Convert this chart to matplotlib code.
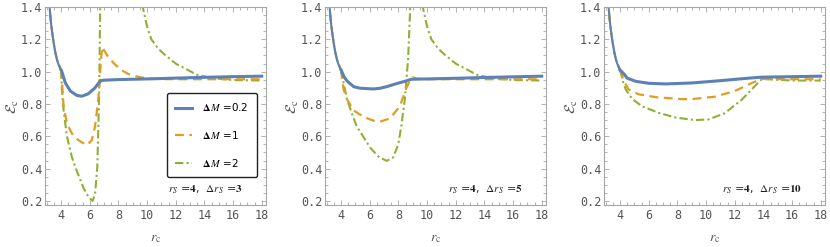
import matplotlib
matplotlib.use("Agg")
import matplotlib.pyplot as plt
from matplotlib.ticker import MultipleLocator

plt.rcParams['mathtext.fontset'] = 'stix'

BLUE = '#5E81B5'
ORANGE = '#E19C24'
GREEN = '#8FB032'

# common branch rc < rs
x_left = [3.12, 3.2, 3.3, 3.4, 3.5, 3.6, 3.7, 3.8, 3.9, 4.0]
e_left = [1.48, 1.40, 1.30, 1.23, 1.17, 1.12, 1.08, 1.05, 1.03, 1.01]

# ---- panel 1 : rs=4, drs=3 ----
p1_blue_x = [4.0, 4.07, 4.3, 4.65, 5.1, 5.45, 5.9, 6.37, 6.67, 6.8, 7.0, 8, 10, 12, 14, 16, 18]
p1_blue_y = [1.01, 0.996, 0.93, 0.88, 0.853, 0.848, 0.863, 0.9, 0.935, 0.945, 0.947, 0.951, 0.955, 0.96, 0.965, 0.969, 0.972]
p1_or_x = [4.0, 4.07, 4.18, 4.41, 4.76, 5.22, 5.8, 6.14, 6.37, 6.6, 6.83, 6.95]
p1_or_y = [1.01, 0.93, 0.785, 0.68, 0.617, 0.575, 0.545, 0.575, 0.66, 0.83, 1.12, 1.14]
p1_or2_x = [6.95, 7.3, 7.7, 8.2, 8.7, 9.5, 10.5, 12, 14, 18]
p1_or2_y = [1.14, 1.09, 1.05, 1.01, 0.985, 0.965, 0.955, 0.953, 0.953, 0.953]
p1_gr_x = [4.0, 4.05, 4.18, 4.41, 4.76, 5.1, 5.57, 5.9, 6.2, 6.37, 6.53, 6.65, 6.74]
p1_gr_y = [1.01, 0.9, 0.76, 0.6, 0.47, 0.385, 0.28, 0.227, 0.2, 0.24, 0.41, 0.83, 1.45]
gr_right_x = [9.65, 10.0, 10.3, 10.8, 11.3, 12.0, 12.7, 13.5, 14.5, 16, 18]
gr_right_y = [1.42, 1.28, 1.2, 1.14, 1.1, 1.05, 1.017, 0.98, 0.96, 0.948, 0.945]

# ---- panel 2 : rs=4, drs=5 ----
p2_blue_x = [4.0, 4.2, 4.41, 4.88, 5.3, 5.8, 6.26, 6.7, 7.18, 7.87, 8.56, 8.9, 10, 12, 14, 16, 18]
p2_blue_y = [1.01, 0.97, 0.943, 0.907, 0.898, 0.895, 0.893, 0.897, 0.907, 0.926, 0.943, 0.953, 0.955, 0.959, 0.964, 0.968, 0.972]
p2_or_x = [4.0, 4.08, 4.18, 4.41, 4.88, 5.57, 6.26, 6.7, 7.4, 8.1, 8.56, 8.8, 9.0, 9.3, 10, 18]
p2_or_y = [1.01, 0.95, 0.89, 0.83, 0.76, 0.72, 0.697, 0.69, 0.71, 0.785, 0.9, 0.943, 0.965, 0.956, 0.953, 0.953]
p2_gr_x = [4.0, 4.08, 4.18, 4.41, 4.76, 5.1, 5.57, 6.03, 6.6, 7.18, 7.64, 7.99, 8.2, 8.45, 8.68, 8.85]
p2_gr_y = [1.01, 0.97, 0.93, 0.83, 0.74, 0.66, 0.595, 0.53, 0.475, 0.448, 0.47, 0.55, 0.66, 0.83, 1.08, 1.45]

# ---- panel 3 : rs=4, drs=10 ----
p3_blue_x = [4.0, 4.28, 4.5, 5.1, 6.0, 7.2, 9.0, 11.1, 13.0, 13.9, 16, 18]
p3_blue_y = [1.01, 0.985, 0.96, 0.94, 0.928, 0.924, 0.93, 0.945, 0.96, 0.966, 0.969, 0.972]
p3_or_x = [4.0, 4.28, 4.6, 5.3, 6.5, 8.3, 9.0, 10.6, 12.0, 13.2, 13.9, 16, 18]
p3_or_y = [1.01, 0.94, 0.89, 0.86, 0.842, 0.83, 0.83, 0.845, 0.88, 0.93, 0.955, 0.953, 0.953]
p3_gr_x = [4.0, 4.2, 4.4, 4.86, 5.55, 6.7, 7.87, 9.25, 10.2, 11.3, 12.5, 13.4, 13.9, 16, 18]
p3_gr_y = [1.01, 0.94, 0.89, 0.83, 0.785, 0.745, 0.716, 0.70, 0.705, 0.743, 0.827, 0.91, 0.955, 0.945, 0.945]

panels = [
    dict(label=(4, 3),
         blue=[(p1_blue_x, p1_blue_y)],
         orange=[(p1_or_x, p1_or_y), (p1_or2_x, p1_or2_y)],
         green=[(p1_gr_x, p1_gr_y), (gr_right_x, gr_right_y)]),
    dict(label=(4, 5),
         blue=[(p2_blue_x, p2_blue_y)],
         orange=[(p2_or_x, p2_or_y)],
         green=[(p2_gr_x, p2_gr_y), (gr_right_x, gr_right_y)]),
    dict(label=(4, 10),
         blue=[(p3_blue_x, p3_blue_y)],
         orange=[(p3_or_x, p3_or_y)],
         green=[(p3_gr_x, p3_gr_y)]),
]

fig = plt.figure(figsize=(8.3, 2.47), dpi=100)
lefts = [45 / 830, 325 / 830, 604 / 830]
W = 221 / 830
B = (247 - 205) / 247
H = (205 - 7) / 247
FRAME = '#a6a6a6'
TXT = '#555555'
DASH = (0, (4, 2.5))
DOTDASH = (0, (4, 1.5, 1, 1.5))

for i, p in enumerate(panels):
    ax = fig.add_axes([lefts[i], B, W, H])
    ax.plot(x_left, e_left, color=GREEN, lw=1.5, ls=DOTDASH)
    ax.plot(x_left, e_left, color=ORANGE, lw=1.5, ls=DASH)
    ax.plot(x_left, e_left, color=BLUE, lw=1.5)
    hg = ho = hb = None
    for xs, ys in p['green']:
        hg, = ax.plot(xs, ys, color=GREEN, lw=1.5, ls=DOTDASH)
    for xs, ys in p['orange']:
        ho, = ax.plot(xs, ys, color=ORANGE, lw=1.6, ls=DASH)
    for xs, ys in p['blue']:
        hb, = ax.plot(xs, ys, color=BLUE, lw=2.2)
    ax.set_xlim(2.88, 18.3)
    ax.set_ylim(0.175, 1.4)
    ax.xaxis.set_minor_locator(MultipleLocator(0.5))
    ax.yaxis.set_minor_locator(MultipleLocator(0.05))
    ax.set_xticks([4, 6, 8, 10, 12, 14, 16, 18])
    ax.set_yticks([0.2, 0.4, 0.6, 0.8, 1.0, 1.2, 1.4])
    ax.set_yticklabels(['0.2', '0.4', '0.6', '0.8', '1.0', '1.2', '1.4'])
    ax.tick_params(which='both', direction='in', top=True, right=True, color=FRAME,
                   labelcolor=TXT, labelsize=8.5, width=0.6)
    ax.tick_params(which='major', length=3.5)
    ax.tick_params(which='minor', length=2)
    for lab in ax.get_xticklabels() + ax.get_yticklabels():
        lab.set_family('DejaVu Sans Mono')
    ax.tick_params(axis='x', pad=3)
    ax.tick_params(axis='y', pad=2)
    for s in ax.spines.values():
        s.set_color(FRAME)
        s.set_linewidth(0.8)
    ax.set_xlabel(r'$r_{\mathrm{c}}$', color=TXT, fontsize=10, labelpad=6)
    ax.set_ylabel(r'$\mathcal{E}_{\mathrm{c}}$', color=TXT, fontsize=11, labelpad=0)
    rs, drs = p['label']
    ax.text(0.895, 0.075,
            r'$r_S$ =$\mathbf{%d}$,  $\Delta r_S$ =$\mathbf{%d}$' % (rs, drs),
            transform=ax.transAxes, ha='right', va='center', fontsize=8, color='#222222')
    if i == 0:
        leg = ax.legend([hb, ho, hg],
                        [r'$\mathbf{\Delta}\, M$ =0.2', r'$\mathbf{\Delta}\, M$ =1', r'$\mathbf{\Delta}\, M$ =2'],
                        loc='upper left', bbox_to_anchor=(0.552, 0.566),
                        fontsize=7.5, frameon=True, fancybox=True, handlelength=1.6,
                        labelspacing=1.5, borderpad=0.8, handletextpad=1.0,
                        borderaxespad=0)
        fr = leg.get_frame()
        fr.set_edgecolor('#222222')
        fr.set_linewidth(1.0)
        fr.set_alpha(1)

fig.savefig('out.png', dpi=100)
